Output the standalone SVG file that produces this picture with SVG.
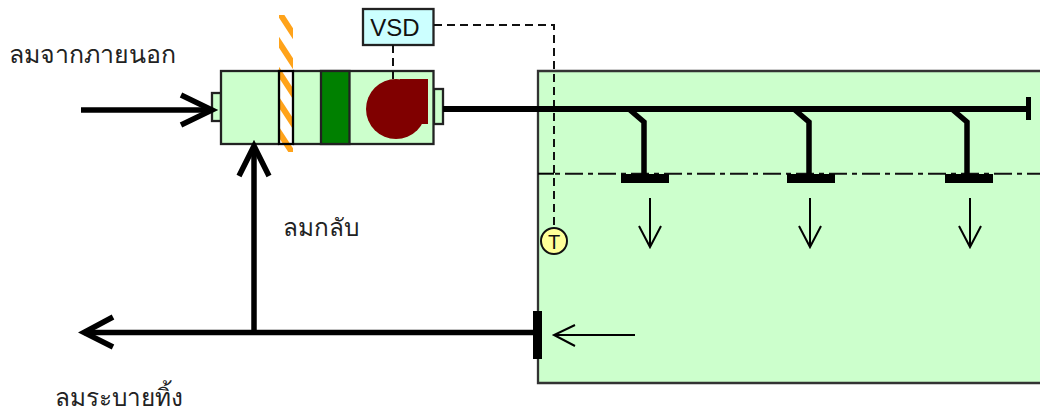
<svg xmlns="http://www.w3.org/2000/svg" width="1040" height="412" viewBox="0 0 1040 412">
<style>
.t{font-family:"Noto Sans","Liberation Sans","DejaVu Sans",sans-serif;font-size:24.300px;fill:#222}
.box{fill:#ccffcc;stroke:#222;stroke-width:2.300}
.thick{fill:none;stroke:#000;stroke-width:5.500}
.thin{fill:none;stroke:#000;stroke-width:2}
.dash{fill:none;stroke:#111;stroke-width:2;stroke-dasharray:8 5}
</style>
<defs>
<pattern id="h" width="14" height="30" patternUnits="userSpaceOnUse" x="279" y="15">
<rect width="14" height="30" fill="#fff"/>
<path d="M-4,-9 L18,25 M-4,21 L18,55 M-4,-39 L18,-5" stroke="#ffa31a" stroke-width="6" fill="none"/>
</pattern>
</defs>
<g id="room"><path d="M1040,71 H538 V383 H1040" fill="#ccffcc" stroke="#333" stroke-width="2.300"/></g>
<g id="ahu">
<rect class="box" x="212" y="93" width="9" height="28"/>
<rect class="box" x="434" y="89" width="9" height="35"/>
<rect class="box" x="221" y="71" width="212.500" height="73"/>
</g>
<g id="damper">
<rect x="279" y="15" width="14" height="137" fill="url(#h)"/>
<rect x="279" y="71" width="14" height="73" fill="none" stroke="#000" stroke-width="2.300"/>
</g>
<g id="coil"><rect x="321" y="71" width="28.500" height="73" fill="#008000" stroke="#222" stroke-width="2.300"/></g>
<g id="fan">
<circle cx="396" cy="109" r="30" fill="#800000"/>
<rect x="400" y="79" width="28" height="45" fill="#800000"/>
</g>
<g id="vsd">
<rect x="363" y="9" width="70.500" height="36" fill="#ccffff" stroke="#222" stroke-width="2.300"/>
<text x="395" y="36" text-anchor="middle" style="font-family:'Liberation Sans',sans-serif;font-size:24px;fill:#111">VSD</text>
</g>
<g id="sensor">
<circle cx="554" cy="241" r="13" fill="#ffff99" stroke="#111" stroke-width="2"/>
<text x="554" y="249" text-anchor="middle" style="font-family:'Liberation Sans',sans-serif;font-size:20px;fill:#111">T</text>
</g>
<g id="connectors">
<path class="dash" d="M393,45 V79"/>
<path class="dash" d="M434,25 H554 V228"/>
<path class="thin" d="M538,173.700 H554"/>
<path d="M554,173.700 H1040" fill="none" stroke="#111" stroke-width="2" stroke-dasharray="18 5 5 5" stroke-dashoffset="22"/>
<path class="thick" d="M81,110 H212"/>
<path class="thick" d="M181,95 L212,110 L181,125"/>
<path d="M443,109 H1030" fill="none" stroke="#000" stroke-width="6"/>
<path d="M1028.500,97 V120" fill="none" stroke="#000" stroke-width="5"/>
<path class="thick" d="M254,331 V146"/>
<path class="thick" d="M239,176 L254,146 L269,176"/>
<path class="thick" d="M534,332.500 H84"/>
<path class="thick" d="M113,317 L84,332.500 L113,347"/>
<path d="M537.500,311 V359" fill="none" stroke="#000" stroke-width="9"/>
<path class="thick" d="M630,110 L644,122 V174"/>
<path class="thick" d="M795,110 L809,122 V174"/>
<path class="thick" d="M953,110 L967,122 V174"/>
<rect x="621" y="174" width="48" height="9"/>
<rect x="787" y="174" width="48" height="9"/>
<rect x="945" y="174" width="48" height="9"/>
<path class="thin" d="M650,198 V247 M639,226 L650,247 L661,226"/>
<path class="thin" d="M810,198 V247 M799,226 L810,247 L821,226"/>
<path class="thin" d="M970,198 V247 M959,226 L970,247 L981,226"/>
<path class="thin" d="M635,335 H554 M575,325 L554,335 L575,346"/>
</g>
<g id="labels">
<text class="t" x="9" y="63" style="font-size:24.900px">ลมจากภายนอก</text>
<text class="t" x="283" y="236">ลมกลับ</text>
<text class="t" x="55" y="406">ลมระบายทิ้ง</text>
</g>
</svg>
